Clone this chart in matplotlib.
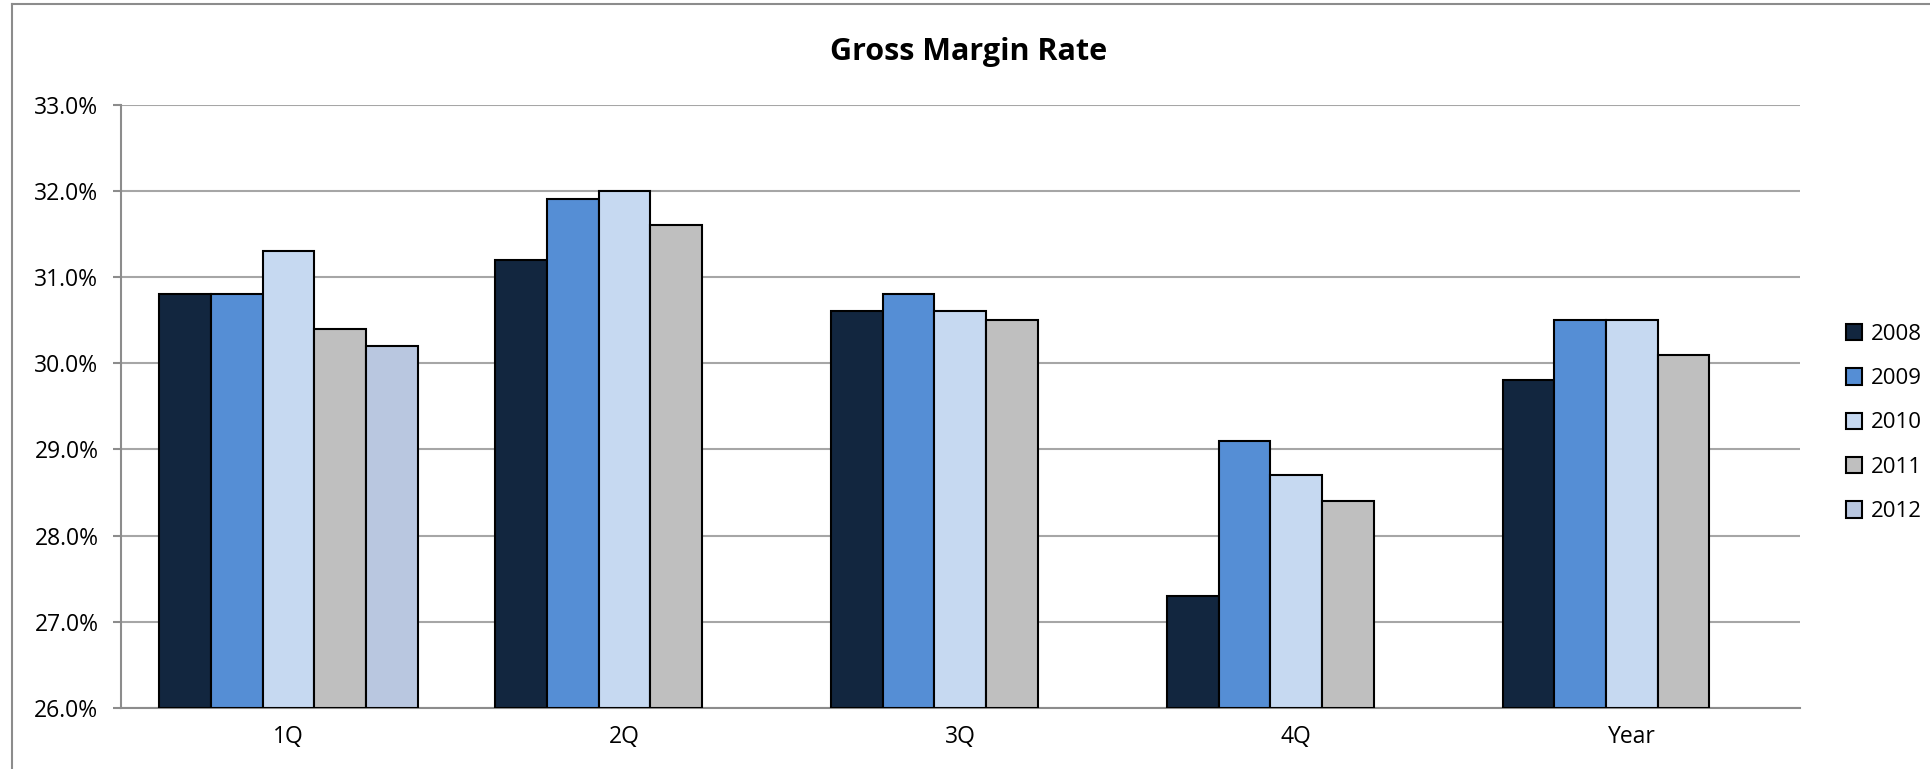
import numpy as np
import matplotlib.pyplot as plt
from matplotlib.lines import Line2D

plt.rcParams['font.family'] = ['Open Sans', 'DejaVu Sans']

categories = ['1Q', '2Q', '3Q', '4Q', 'Year']
years = ['2008', '2009', '2010', '2011', '2012']
v2008 = [30.8, 31.2, 30.6, 27.3, 29.8]
v2009 = [30.8, 31.9, 30.8, 29.1, 30.5]
v2010 = [31.3, 32.0, 30.6, 28.7, 30.5]
v2011 = [30.4, 31.6, 30.5, 28.4, 30.1]
v2012 = [30.2, None, None, None, None]
colors = ['#12263f', '#558ed5', '#c6d9f1', '#bfbfbf', '#b9c7e0']

series = [v2008, v2009, v2010, v2011, v2012]

fig = plt.figure(figsize=(19.3, 7.69), dpi=100)
ax = fig.add_axes([0.0625, 0.0793, 0.8701, 0.7847])

x = np.arange(len(categories))
w = 1 / 6.5
for i, vals in enumerate(series):
    xs = [x[j] + (i - 2) * w for j in range(len(vals)) if vals[j] is not None]
    hs = [v - 26 for v in vals if v is not None]
    ax.bar(xs, hs, width=w, bottom=26, color=colors[i], edgecolor='black',
           linewidth=1.5, label=years[i], zorder=3)

ax.set_xlim(-0.5, len(categories) - 0.5)
ax.set_ylim(26, 33)
ax.set_yticks(np.arange(26, 33.1, 1))
ax.set_yticklabels(['%.1f%%' % t for t in np.arange(26, 33.1, 1)])
ax.set_xticks(x)
ax.set_xticklabels(categories)
ax.tick_params(axis='y', length=6, width=1.5, color='#8c8c8c', labelsize=16.5, pad=10)
ax.tick_params(axis='x', length=0, labelsize=16.5, pad=12)
ax.yaxis.grid(True, color='#a6a6a6', linewidth=1.5, zorder=0)
for s in ['top', 'right']:
    ax.spines[s].set_visible(False)
for s in ['left', 'bottom']:
    ax.spines[s].set_color('#8c8c8c')
    ax.spines[s].set_linewidth(1.5)

fig.text(0.502, 0.932, 'Gross Margin Rate', ha='center', va='center',
         fontsize=22, fontweight='bold')

fig.legend(loc='center left', bbox_to_anchor=(0.946, 0.45), frameon=False,
           fontsize=16, handlelength=0.75, handleheight=0.75, handletextpad=0.4,
           labelspacing=1.05)

# outer chart border (top and left)
fig.add_artist(Line2D([12 / 1930, 1], [1 - 4 / 769, 1 - 4 / 769], color='#8c8c8c', linewidth=1.5))
fig.add_artist(Line2D([12 / 1930, 12 / 1930], [0, 1 - 4 / 769], color='#8c8c8c', linewidth=1.5))

fig.savefig('out.png', dpi=100)
